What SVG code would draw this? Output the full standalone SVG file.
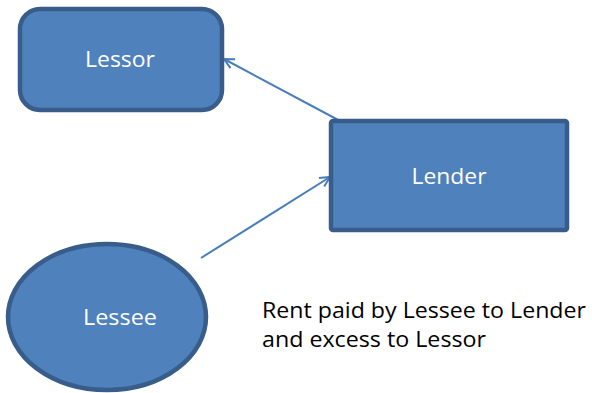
<svg xmlns="http://www.w3.org/2000/svg" width="592" height="393" viewBox="0 0 592 393">
<defs>
<style>
.node{fill:#4f81bd;stroke:#385d8a;stroke-width:4.5}
.lbl{font-family:"Open Sans","Liberation Sans",sans-serif;font-size:21px;fill:#ffffff;text-anchor:middle}
.note{font-family:"Open Sans","Liberation Sans",sans-serif;font-size:21px;fill:#000000}
.conn{stroke:#4a7ebb;stroke-width:2;fill:none}
</style>
<marker id="arr" viewBox="0 0 12 12" refX="11" refY="6" markerWidth="12" markerHeight="12" markerUnits="userSpaceOnUse" orient="auto">
<path d="M1,1 L11,6 L1,11" fill="none" stroke="#4a7ebb" stroke-width="2"/>
</marker>
</defs>
<rect width="592" height="393" fill="#ffffff"/>
<g id="connectors">
<line class="conn" x1="342" y1="122" x2="224" y2="59" marker-end="url(#arr)"/>
<line class="conn" x1="201" y1="258" x2="330" y2="177" marker-end="url(#arr)"/>
</g>
<g id="lessor">
<rect class="node" x="20" y="9" width="202" height="101" rx="20"/>
<text class="lbl" x="120" y="67" textLength="70" lengthAdjust="spacingAndGlyphs">Lessor</text>
</g>
<g id="lender">
<rect class="node" x="331" y="121" width="236" height="109" rx="2"/>
<text class="lbl" x="449" y="184" textLength="75" lengthAdjust="spacingAndGlyphs">Lender</text>
</g>
<g id="lessee">
<ellipse class="node" cx="107" cy="317" rx="99" ry="73"/>
<text class="lbl" x="120" y="325" textLength="74" lengthAdjust="spacingAndGlyphs">Lessee</text>
</g>
<g id="note">
<text class="note" x="262" y="318" textLength="324" lengthAdjust="spacingAndGlyphs">Rent paid by Lessee to Lender</text>
<text class="note" x="262" y="347" textLength="224" lengthAdjust="spacingAndGlyphs">and excess to Lessor</text>
</g>
</svg>
